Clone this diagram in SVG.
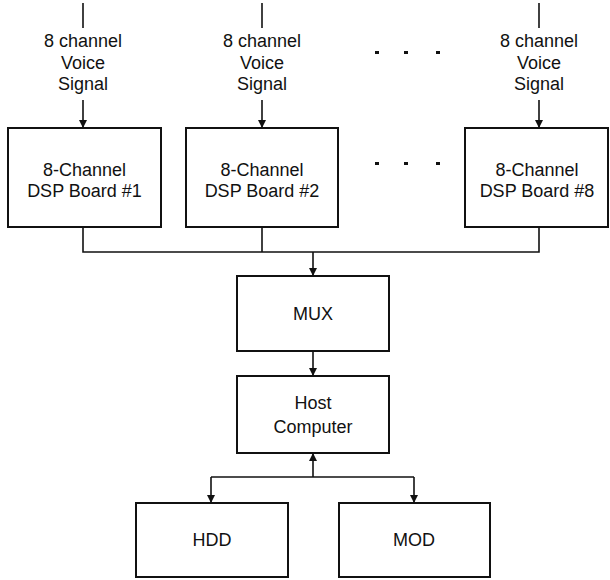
<svg xmlns="http://www.w3.org/2000/svg" width="610" height="580" viewBox="0 0 610 580">
<defs>
<style>
.box{fill:#fff;stroke:#111;stroke-width:2}
.ln{fill:none;stroke:#111;stroke-width:1.6}
.t{font-family:"Liberation Sans",Arial,sans-serif;font-size:18px;fill:#111;text-anchor:middle}
.dot{fill:#111}
</style>
<marker id="ah" viewBox="0 0 10 10" refX="10" refY="5" markerWidth="9" markerHeight="8" markerUnits="userSpaceOnUse" orient="auto">
<path d="M0,0 L10,5 L0,10 z" fill="#111"/>
</marker>
</defs>
<rect width="610" height="580" fill="#fff"/>
<g id="labels">
<text class="t" x="83" y="47">8 channel</text>
<text class="t" x="83" y="69">Voice</text>
<text class="t" x="83" y="90">Signal</text>
<text class="t" x="262" y="47">8 channel</text>
<text class="t" x="262" y="69">Voice</text>
<text class="t" x="262" y="90">Signal</text>
<text class="t" x="539" y="47">8 channel</text>
<text class="t" x="539" y="69">Voice</text>
<text class="t" x="539" y="90">Signal</text>
</g>
<g id="ellipsis">
<rect class="dot" x="375" y="51" width="4" height="3"/>
<rect class="dot" x="404" y="51" width="4" height="3"/>
<rect class="dot" x="436" y="51" width="4" height="3"/>
<rect class="dot" x="375" y="162" width="4" height="3"/>
<rect class="dot" x="404" y="162" width="4" height="3"/>
<rect class="dot" x="436" y="162" width="4" height="3"/>
</g>
<g id="dsp1">
<rect class="box" x="8" y="128" width="153" height="99"/>
<text class="t" x="84.5" y="176">8-Channel</text>
<text class="t" x="84.5" y="197">DSP Board #1</text>
</g>
<g id="dsp2">
<rect class="box" x="186" y="128" width="152" height="99"/>
<text class="t" x="262" y="176">8-Channel</text>
<text class="t" x="262" y="197">DSP Board #2</text>
</g>
<g id="dsp8">
<rect class="box" x="465" y="128" width="143" height="99"/>
<text class="t" x="537" y="176">8-Channel</text>
<text class="t" x="537" y="197">DSP Board #8</text>
</g>
<g id="mux">
<rect class="box" x="237" y="276" width="152" height="75"/>
<text class="t" x="313" y="320">MUX</text>
</g>
<g id="host">
<rect class="box" x="237" y="376" width="152" height="77"/>
<text class="t" x="313" y="409">Host</text>
<text class="t" x="313" y="433">Computer</text>
</g>
<g id="hdd">
<rect class="box" x="136" y="503" width="152" height="74"/>
<text class="t" x="212" y="546">HDD</text>
</g>
<g id="mod">
<rect class="box" x="339" y="503" width="151" height="74"/>
<text class="t" x="414" y="546">MOD</text>
</g>
<g id="connectors">
<line class="ln" x1="83" y1="3" x2="83" y2="28"/>
<line class="ln" x1="262" y1="3" x2="262" y2="28"/>
<line class="ln" x1="539" y1="3" x2="539" y2="28"/>
<line class="ln" x1="83" y1="100" x2="83" y2="128" marker-end="url(#ah)"/>
<line class="ln" x1="262" y1="100" x2="262" y2="128" marker-end="url(#ah)"/>
<line class="ln" x1="539" y1="100" x2="539" y2="128" marker-end="url(#ah)"/>
<polyline class="ln" points="83,227 83,252 539,252 539,227"/>
<line class="ln" x1="262" y1="227" x2="262" y2="252"/>
<line class="ln" x1="313" y1="252" x2="313" y2="276" marker-end="url(#ah)"/>
<line class="ln" x1="313" y1="351" x2="313" y2="376" marker-end="url(#ah)"/>
<line class="ln" x1="313" y1="477" x2="313" y2="453" marker-end="url(#ah)"/>
<line class="ln" x1="211" y1="477" x2="414" y2="477"/>
<line class="ln" x1="211" y1="477" x2="211" y2="503" marker-end="url(#ah)"/>
<line class="ln" x1="414" y1="477" x2="414" y2="503" marker-end="url(#ah)"/>
</g>
</svg>
